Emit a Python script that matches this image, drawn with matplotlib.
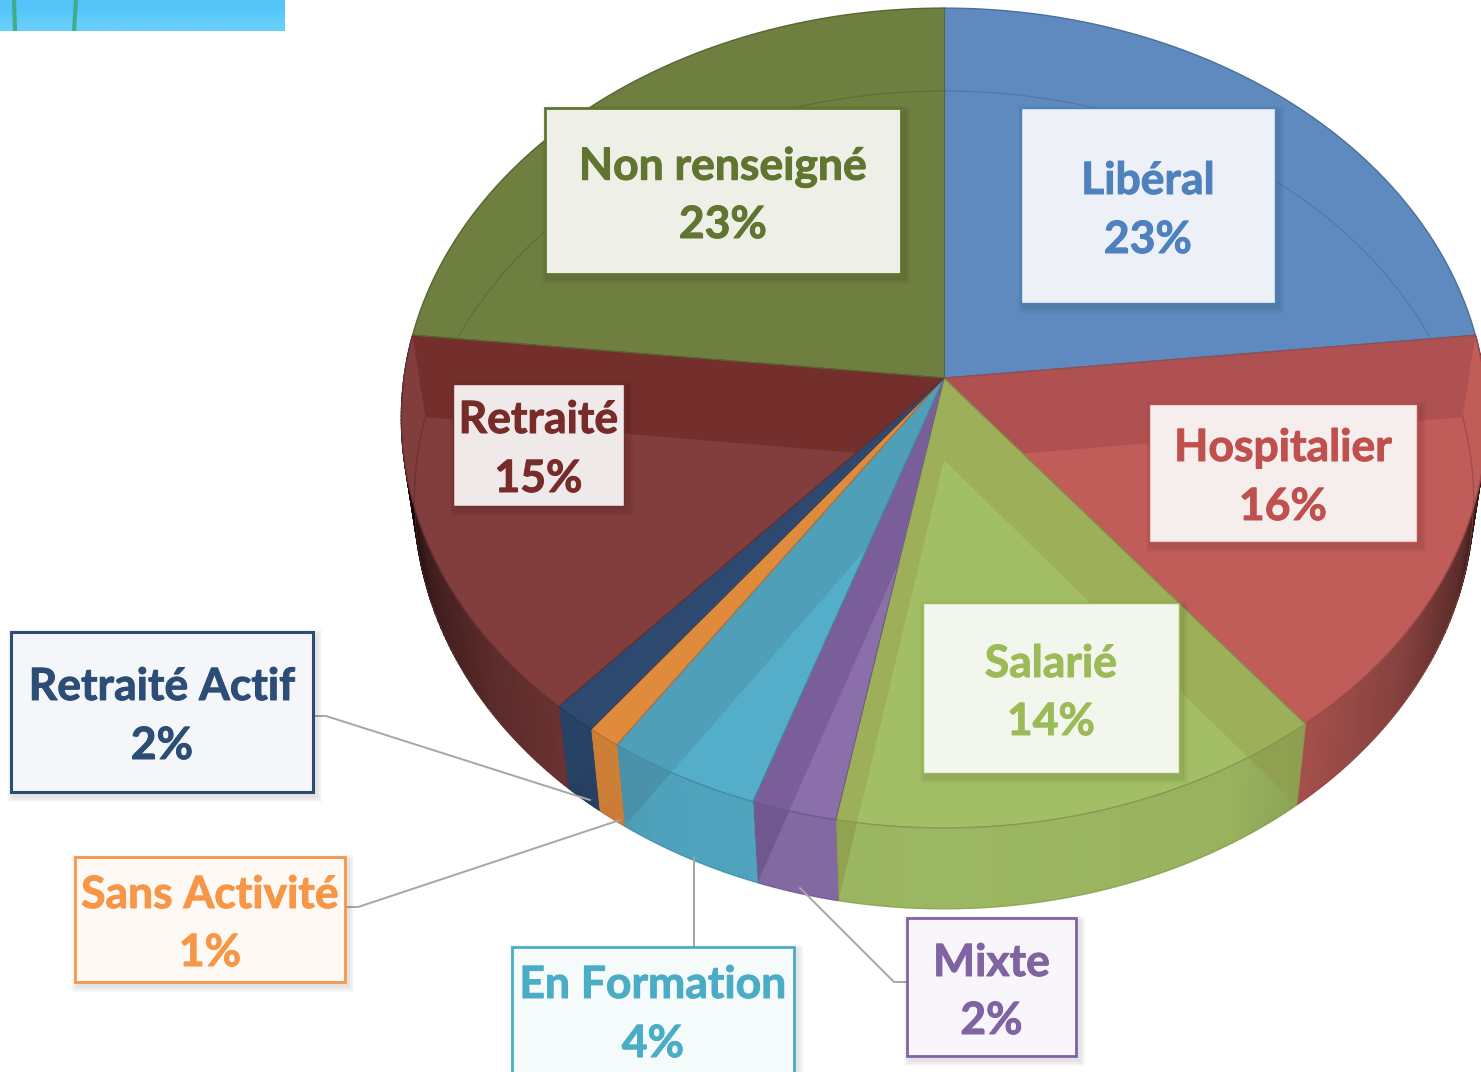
import numpy as np
import matplotlib
matplotlib.use("Agg")
import matplotlib.pyplot as plt
import matplotlib.patheffects as pe
from matplotlib.patches import Polygon, Rectangle
from matplotlib.colors import to_rgb

# Chart data, clockwise from 12 o'clock
names = ["Libéral", "Hospitalier", "Salarié", "Mixte", "En Formation",
         "Sans Activité", "Retraité Actif", "Retraité", "Non renseigné"]
percent_labels = ["23%", "16%", "14%", "2%", "4%", "1%", "2%", "15%", "23%"]
shares = [23.3, 16.1, 13.5, 2.3, 4.2, 0.9, 1.2, 15.2, 23.3]

face_colors = ["#5e8ac0", "#c05d59", "#a3bf65", "#8a6fab", "#55aec9",
               "#e68c3f", "#2e4a72", "#823d3d", "#6e7f40"]
band_colors = ["#54799f", "#ad5050", "#9cad56", "#775c98", "#4f9db5",
               "#e08a3c", "#2d4970", "#722c28", "#66753a"]
text_colors = ["#4f81bd", "#c0504d", "#9bbb59", "#8064a2", "#4bacc6",
               "#f79646", "#2c4d75", "#772c2a", "#5f7530"]
box_fills = ["#edf1f7", "#f6eded", "#f3f6ec", "#f8f6fa", "#f5fafb",
             "#fef9f4", "#f4f6f9", "#efe9e9", "#eef0e8"]
# x0, y0, x1, y1 of each label box, in picture pixels
boxes = [(1021, 108, 1275, 303), (1149, 404, 1417, 542), (923, 603, 1179, 773),
         (907, 918, 1076, 1056), (512, 947, 794, 1085), (75, 857, 345, 982),
         (11, 632, 313, 792), (453, 384, 624, 506), (545, 108, 901, 274)]
text_y = [(181, 240), (448, 507), (664, 722), (963, 1021), (985, 1044),
          (895, 953), (687, 746), (420, 479), (167, 225)]
box_edge_width = [1.0, 1.0, 1.0, 2.0, 2.0, 2.0, 2.2, 1.0, 2.0]

leaders = [
    ([907, 894, 800], [982, 982, 888]),
    ([694, 694], [947, 858]),
    ([345, 358, 620], [907, 907, 820]),
    ([313, 326, 590], [716, 716, 800]),
]

# Perspective set-up of the pie
CX = 944
K = 0.0976
TOP = dict(cy=378, a=540, b=406)
BOTTOM = dict(cy=460, a=527, b=405)


def project(theta, cy, a, b):
    u, v = np.sin(theta), -np.cos(theta)
    s = 1 / (1 - K * v)
    return CX + a * u * s, cy + b * v * s


def arc(t0, t1, disc):
    n = max(int(np.degrees(t1 - t0) * 2), 2)
    x, y = project(np.linspace(t0, t1, n), **disc)
    return np.column_stack([x, y])


def wall_shade(theta):
    return np.interp(abs(np.sin(theta)), [0, 0.5, 0.64, 0.8, 0.93, 1.0],
                     [0.96, 0.93, 0.84, 0.70, 0.48, 0.12])


fig = plt.figure(figsize=(14.81, 10.72), dpi=100)
ax = fig.add_axes([0, 0, 1, 1])
ax.axis("off")

# Photo strip cut off in the top left corner
strip = np.array([[to_rgb("#53c5f8")], [to_rgb("#66cefb")]])
ax.imshow(strip, extent=(0, 285, 31, 0), aspect="auto", interpolation="bilinear", zorder=1)
ax.plot([14, 15], [0, 31], color="#3aa878", lw=3, alpha=0.85, zorder=2, solid_capstyle="butt")
ax.plot([76, 74], [0, 31], color="#3aa878", lw=3, alpha=0.85, zorder=2, solid_capstyle="butt")

ax.set_xlim(0, 1481)
ax.set_ylim(1072, 0)

edges = np.radians(np.cumsum([0] + shares) * 3.6)
FRONT = np.radians([84, 276])

# Outer wall first, strip by strip
for i, name in enumerate(names):
    t0, t1 = max(edges[i], FRONT[0]), min(edges[i + 1], FRONT[1])
    if t1 <= t0:
        continue
    steps = np.linspace(t0, t1, max(int(np.degrees(t1 - t0)) * 2, 2))
    base = np.array(to_rgb(face_colors[i]))
    for a0, a1 in zip(steps[:-1], steps[1:]):
        top = arc(a0, a1, TOP)
        bot = arc(a0, a1, BOTTOM)
        col = tuple(base * wall_shade((a0 + a1) / 2))
        ax.add_patch(Polygon(np.vstack([top, bot[::-1]]), fc=col, ec=col, lw=1.0, zorder=3))

# Top faces, the inner walls seen through them, and the rims
for i, name in enumerate(names):
    t0, t1 = edges[i], edges[i + 1]
    top_pts = arc(t0, t1, TOP)
    wedge = np.vstack([[CX, TOP["cy"]], top_pts])
    ax.add_patch(Polygon(wedge, fc=face_colors[i], ec="none", zorder=4))

    clips = [Polygon(wedge, transform=ax.transData)]
    w0, w1 = max(t0, FRONT[0]), min(t1, FRONT[1])
    if w1 > w0:
        wall = np.vstack([arc(w0, w1, TOP), arc(w0, w1, BOTTOM)[::-1]])
        clips.append(Polygon(wall, transform=ax.transData))

    for edge in (t0, t1):
        quad = np.array([[CX, TOP["cy"]], project(edge, **TOP),
                         project(edge, **BOTTOM), [CX, BOTTOM["cy"]]])
        for n_clip, clip in enumerate(clips):
            # the same wall reads a little darker where it crosses the outer wall
            col = np.array(to_rgb(band_colors[i])) * (1.0 if n_clip == 0 else 0.92)
            band = Polygon(quad, fc=tuple(col), ec="none", alpha=0.85, zorder=5)
            ax.add_patch(band)
            band.set_clip_path(clip)

    dark = tuple(np.array(to_rgb(face_colors[i])) * 0.8)
    ax.plot(top_pts[:, 0], top_pts[:, 1], color=dark, lw=1, zorder=6)
    ax.plot(wedge[[0, 1], 0], wedge[[0, 1], 1], color=dark, lw=0.8, zorder=6)
    ax.plot([wedge[0, 0], wedge[-1, 0]], [wedge[0, 1], wedge[-1, 1]], color=dark, lw=0.8, zorder=6)
    # bottom edge of the pie, showing faintly through
    bot_pts = arc(t0, t1, BOTTOM)
    line, = ax.plot(bot_pts[:, 0], bot_pts[:, 1], color=dark, lw=0.8, alpha=0.7, zorder=6)
    line.set_clip_path(clips[0])
    if len(clips) > 1:
        line2, = ax.plot(bot_pts[:, 0], bot_pts[:, 1], color=dark, lw=0.8, alpha=0.9, zorder=6)
        line2.set_clip_path(clips[1])

# Leader lines
for xs, ys in leaders:
    ax.plot(xs, ys, color="#a6a6a6", lw=1.4, zorder=7)

# Label boxes with a soft shadow
for i, name in enumerate(names):
    x0, y0, x1, y1 = boxes[i]
    for grow in (6, 4, 2):
        ax.add_patch(Rectangle((x0 + 3 - grow, y0 + 4 - grow), x1 - x0 + 2 * grow, y1 - y0 + 2 * grow,
                               fc="black", ec="none", alpha=0.035, zorder=8))
    ax.add_patch(Rectangle((x0, y0), x1 - x0, y1 - y0, fc=box_fills[i], ec=text_colors[i],
                           lw=box_edge_width[i], zorder=9))
    xc = (x0 + x1) / 2
    heavier = [pe.withStroke(linewidth=0.7, foreground=text_colors[i])]
    ax.text(xc, text_y[i][0], name, color=text_colors[i], fontsize=32, fontweight="bold",
            family="Lato", ha="center", va="center", zorder=10, path_effects=heavier)
    ax.text(xc, text_y[i][1], percent_labels[i], color=text_colors[i], fontsize=32,
            fontweight="bold", family="Lato", ha="center", va="center", zorder=10,
            path_effects=heavier)

fig.savefig("out.png", dpi=100)
